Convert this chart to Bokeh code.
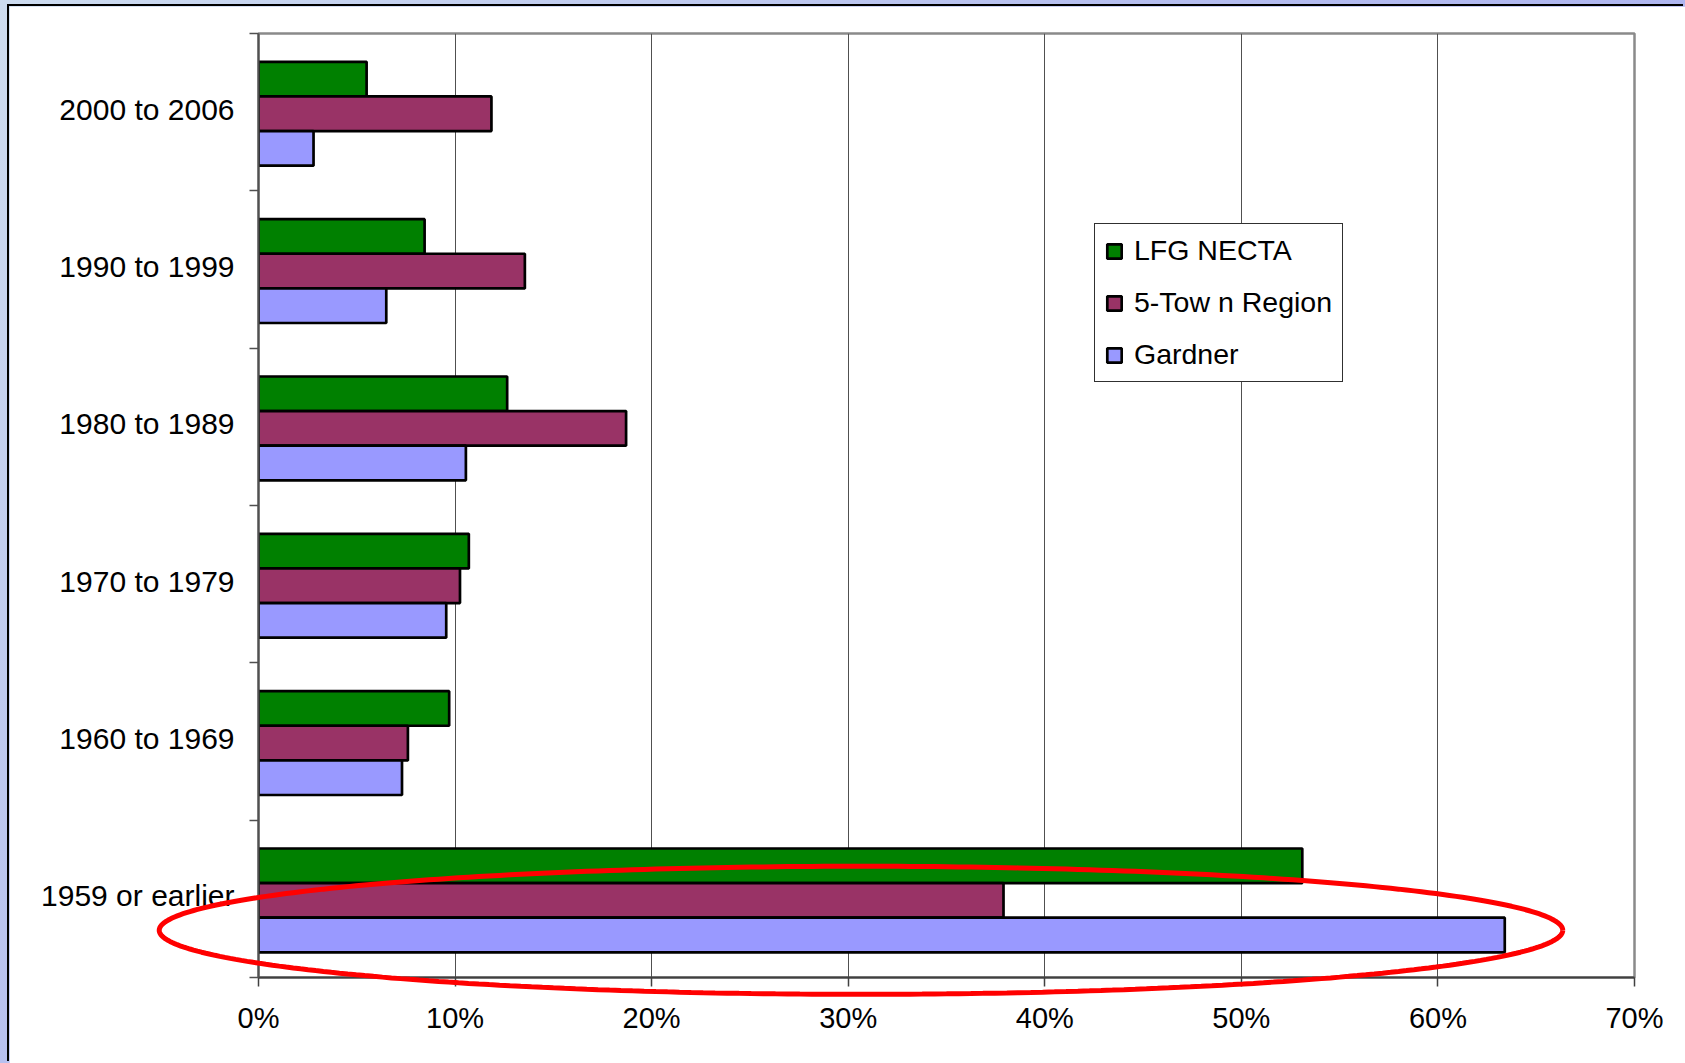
from bokeh.plotting import figure
from bokeh.models import FixedTicker, Legend, LegendItem
from bokeh.layouts import column
from bokeh.embed import file_html
from bokeh.resources import INLINE
import numpy as np

# Year-built periods, listed top to bottom as they appear on the chart
periods = ["2000 to 2006", "1990 to 1999", "1980 to 1989",
           "1970 to 1979", "1960 to 1969", "1959 or earlier"]

# Share of housing units (%) by period
lfg_necta = [5.5, 8.45, 12.65, 10.7, 9.7, 53.1]
five_town = [11.85, 13.55, 18.7, 10.25, 7.6, 37.9]
gardner = [2.8, 6.5, 10.55, 9.55, 7.3, 63.4]

series_names = ["LFG NECTA", "5-Tow n Region", "Gardner"]
series_colors = ["#008000", "#993366", "#9999ff"]

x_ticks = [0, 10, 20, 30, 40, 50, 60, 70]
x_tick_labels = ["0%", "10%", "20%", "30%", "40%", "50%", "60%", "70%"]

FONT = "Liberation Sans"

# canvas geometry of the chart panel
W, H = 1676, 1057
ML, MR, MT, MB = 249, 51, 27, 86
X0, X1 = 0, 70

n = len(periods)
row_y = [n - i - 0.5 for i in range(n)]      # centre of each period's band
bar_h = 0.22
group_shift = -0.01
offsets = [bar_h + group_shift, group_shift, -bar_h + group_shift]

p = figure(width=W, height=H, x_range=(X0, X1), y_range=(0, n),
           output_backend="svg", toolbar_location=None,
           min_border_left=ML, min_border_right=MR,
           min_border_top=MT, min_border_bottom=MB,
           background_fill_color="white", border_fill_color="white",
           margin=(6, 0, 0, 9), frame_align=False)
p.styles = {"box-shadow": "-2px -2px 0 0 #000000"}

renderers = []
for vals, off, color in zip([lfg_necta, five_town, gardner], offsets, series_colors):
    r = p.hbar(y=[y + off for y in row_y], left=0, right=vals, height=bar_h,
               fill_color=color, line_color="black", line_width=2.7)
    renderers.append(r)

# frame and grid
p.outline_line_color = "#8a8a8a"
p.outline_line_width = 2.5
p.ygrid.visible = False
p.xgrid.ticker = FixedTicker(ticks=x_ticks)
p.xgrid.grid_line_color = "#505050"
p.xgrid.grid_line_width = 1

# x axis: percentage ticks
xa = p.xaxis[0]
xa.ticker = FixedTicker(ticks=x_ticks)
xa.major_label_overrides = {t: s for t, s in zip(x_ticks, x_tick_labels)}
xa.axis_line_color = "#404040"
xa.axis_line_width = 2
xa.major_tick_line_color = "#404040"
xa.major_tick_line_width = 1.5
xa.major_tick_out = 9
xa.major_tick_in = 0
xa.minor_tick_line_color = None
xa.major_label_standoff = 15
xa.major_label_text_font = FONT
xa.major_label_text_font_size = "29px"
xa.major_label_text_color = "black"

# y axis: labels centred in bands, ticks on the band boundaries
label_y = [y + 0.02 for y in row_y]
ya = p.yaxis[0]
ya.ticker = FixedTicker(ticks=label_y, minor_ticks=list(range(n + 1)))
ya.major_label_overrides = {y: s for y, s in zip(label_y, periods)}
ya.axis_line_color = "#505050"
ya.axis_line_width = 2
ya.major_tick_line_color = None
ya.major_tick_out = 0
ya.major_tick_in = 0
ya.minor_tick_line_color = "#505050"
ya.minor_tick_line_width = 1.5
ya.minor_tick_out = 9
ya.minor_tick_in = 0
ya.major_label_standoff = 15
ya.major_label_text_font = FONT
ya.major_label_text_font_size = "30px"
ya.major_label_text_color = "black"

legend = Legend(
    items=[LegendItem(label=name, renderers=[r]) for name, r in zip(series_names, renderers)],
    location=(836, 595), orientation="vertical",
    border_line_color="#303030", border_line_width=1, border_line_alpha=1,
    background_fill_color="white", background_fill_alpha=1,
    padding=10, spacing=19, margin=0,
    glyph_width=18, glyph_height=18, label_height=30, label_standoff=11,
    label_text_font=FONT, label_text_font_size="28.5px", label_text_color="black",
)
p.add_layout(legend)

# Transparent overlay sharing the chart's coordinates, so the red ring can
# extend past the plot frame onto the axes area. A negative top margin
# stacks it exactly over the chart; its frame fills the whole canvas.
px_x = (W - ML - MR) / (X1 - X0)
px_y = (H - MT - MB) / n
ov = figure(width=W, height=H,
            x_range=(X0 - ML / px_x, X1 + MR / px_x),
            y_range=(0 - MB / px_y, n + MT / px_y),
            output_backend="svg", toolbar_location=None,
            x_axis_location=None, y_axis_location=None, min_border=0,
            background_fill_alpha=0, border_fill_alpha=0,
            outline_line_color=None, margin=(-H, 0, 0, 9), frame_align=False)
ov.grid.visible = False
ov.styles = {"pointer-events": "none"}

# red ring around the "1959 or earlier" group
ring_cx, ring_cy = 30.65, 0.30      # centre (percent, band units)
ring_ax, ring_ay = 35.7, 0.407      # semi-axes (percent, band units)
t = np.linspace(0, 2 * np.pi, 361)
ov.line(x=ring_cx + ring_ax * np.cos(t), y=ring_cy + ring_ay * np.sin(t),
        line_color="#ff0000", line_width=5)

page = column(p, ov, width=1685, height=1063,
              styles={"background": "linear-gradient(135deg, #cddcf0 0%, #b4bcf0 45%, #a4a8f2 100%)"})

with open("out.html", "w") as f:
    f.write(file_html(page, INLINE))
